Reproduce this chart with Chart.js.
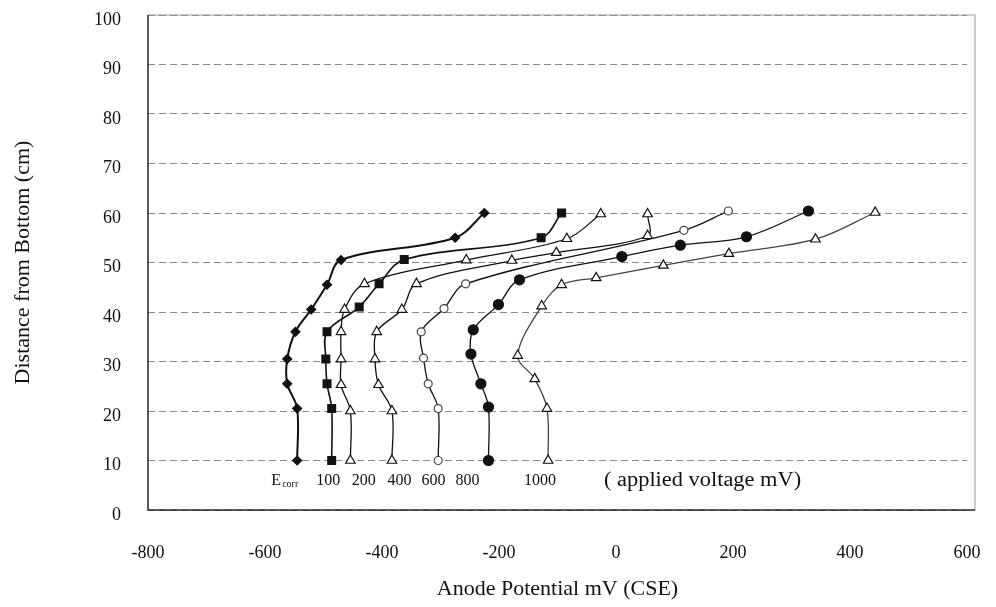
<!DOCTYPE html>
<html>
<head>
<meta charset="utf-8">
<script src="https://cdn.jsdelivr.net/npm/chart.js@4.4.1/dist/chart.umd.min.js"></script>
<style>
  html, body { margin: 0; padding: 0; background: #fff; }
  #wrap { width: 996px; height: 607px; position: relative; }
</style>
</head>
<body>
<div id="wrap"><canvas id="chart"></canvas></div>
<script>
// anode potential (mV CSE) vs distance from bottom (cm), one pair of arrays per applied voltage
const ecorrX = [-545, -545, -562, -562, -548, -521, -494, -470, -275, -225];
const ecorrY = [10, 20.5, 25.5, 30.5, 36, 40.5, 45.5, 50.5, 55, 60];

const v100X = [-486, -486, -494, -496, -494, -439, -405, -362, -128, -93];
const v100Y = [10, 20.5, 25.5, 30.5, 36, 41, 45.7, 50.6, 55, 60];

const v200X = [-454, -454, -470, -470, -470, -464, -430, -256, -84, -26];
const v200Y = [10, 20, 25.3, 30.5, 36, 40.5, 45.7, 50.5, 54.8, 59.8];

const v400X = [-383, -383, -406, -412, -409, -366, -341, -178, -102, 54, 54];
const v400Y = [10, 20, 25.3, 30.5, 36, 40.5, 45.7, 50.4, 52, 55.4, 59.8];

const v600X = [-304, -304, -321, -329, -333, -294, -257, 116, 192];
const v600Y = [10, 20.5, 25.5, 30.7, 36, 40.7, 45.7, 56.5, 60.4];

const v800X = [-218, -218, -231, -248, -244, -201, -165, 10, 110, 223, 329];
const v800Y = [10, 20.8, 25.5, 31.5, 36.4, 41.5, 46.5, 51.2, 53.5, 55.2, 60.4];

const v1000X = [-116, -118, -139, -168, -127, -93, -34, 81, 193, 341, 443];
const v1000Y = [10, 20.5, 26.5, 31.2, 41.2, 45.5, 46.9, 49.4, 51.8, 54.7, 60.1];

const voltageLabels = ['Ecorr', '100', '200', '400', '600', '800', '1000'];
const xTicks = [-800, -600, -400, -200, 0, 200, 400, 600];
const yTicks = [0, 10, 20, 30, 40, 50, 60, 70, 80, 90, 100];

const serif = "'Liberation Serif', 'DejaVu Serif', serif";

function pts(xs, ys) {
  return xs.map((x, i) => ({ x: x, y: ys[i] }));
}

function series(label, xs, ys, style) {
  return Object.assign({
    label: label,
    data: pts(xs, ys),
    showLine: true,
    tension: 0.35,
    borderColor: '#111',
    borderWidth: 1.3,
    pointBorderColor: '#111',
    pointBorderWidth: 1.2
  }, style);
}

const datasets = [
  series(voltageLabels[0], ecorrX, ecorrY, { borderWidth: 2, pointStyle: 'rectRot', pointRadius: 4.5, pointBackgroundColor: '#111' }),
  series(voltageLabels[1], v100X, v100Y, { borderWidth: 1.6, pointStyle: 'rect', pointRadius: 5.5, pointBackgroundColor: '#111' }),
  series(voltageLabels[2], v200X, v200Y, { pointStyle: 'triangle', pointRadius: 5.5, pointBackgroundColor: '#fff' }),
  series(voltageLabels[3], v400X, v400Y, { pointStyle: 'triangle', pointRadius: 5.5, pointBackgroundColor: '#fff' }),
  series(voltageLabels[4], v600X, v600Y, { pointStyle: 'circle', pointRadius: 4, pointBackgroundColor: '#fff', pointBorderColor: '#444' }),
  series(voltageLabels[5], v800X, v800Y, { pointStyle: 'circle', pointRadius: 5, pointBackgroundColor: '#111' }),
  series(voltageLabels[6], v1000X, v1000Y, { pointStyle: 'triangle', pointRadius: 5.5, pointBackgroundColor: '#fff', borderColor: '#444' })
];

// labels written under each curve, placed in data units
const labelX = [-567, -492, -431, -370, -312, -254, -130];
const labelY = 6;
const noteText = '( applied voltage mV)';
const noteX = 148;

const framePlugin = {
  id: 'frame',
  beforeDatasetsDraw(chart) {
    const { ctx, chartArea: a } = chart;
    const r = a.right + 8;
    ctx.save();
    ctx.strokeStyle = '#9a9a9a';
    ctx.lineWidth = 1;
    ctx.beginPath();
    ctx.moveTo(a.left, a.top);
    ctx.lineTo(r, a.top);
    ctx.lineTo(r, a.bottom);
    ctx.stroke();
    ctx.strokeStyle = '#222';
    ctx.lineWidth = 1.5;
    ctx.beginPath();
    ctx.moveTo(a.left, a.top);
    ctx.lineTo(a.left, a.bottom);
    ctx.lineTo(r, a.bottom);
    ctx.stroke();
    ctx.restore();
  },
  afterDatasetsDraw(chart) {
    const { ctx, scales } = chart;
    const py = scales.y.getPixelForValue(labelY);
    ctx.save();
    ctx.fillStyle = '#111';
    ctx.textBaseline = 'middle';
    ctx.textAlign = 'center';
    ctx.font = '16px ' + serif;
    voltageLabels.forEach((t, i) => {
      const px = scales.x.getPixelForValue(labelX[i]);
      if (t === 'Ecorr') {
        ctx.textAlign = 'left';
        ctx.font = '16px ' + serif;
        const w = ctx.measureText('E').width;
        ctx.font = '10px ' + serif;
        const w2 = ctx.measureText('corr').width;
        const x0 = px - (w + w2) / 2;
        ctx.font = '16px ' + serif;
        ctx.fillText('E', x0, py);
        ctx.font = '10px ' + serif;
        ctx.fillText('corr', x0 + w + 1, py + 4);
        ctx.textAlign = 'center';
        ctx.font = '16px ' + serif;
      } else {
        ctx.fillText(t, px, py);
      }
    });
    // the scanned note reads a little wider than the digits
    const nx = scales.x.getPixelForValue(noteX);
    ctx.translate(nx, py);
    ctx.scale(1.12, 1);
    ctx.font = '20px ' + serif;
    ctx.fillText(noteText, 0, 0);
    ctx.restore();
  }
};

new Chart(document.getElementById('chart'), {
  type: 'scatter',
  data: { datasets: datasets },
  options: {
    responsive: true,
    maintainAspectRatio: false,
    animation: false,
    layout: { padding: { top: 15, right: 29, left: 0, bottom: 0 } },
    plugins: {
      legend: { display: false },
      tooltip: { enabled: false }
    },
    scales: {
      x: {
        type: 'linear',
        min: -800,
        max: 600,
        afterFit: s => { s.height = 97; s.paddingLeft = 0; s.paddingRight = 0; },
        afterBuildTicks: s => { s.ticks = xTicks.map(v => ({ value: v })); },
        grid: { display: false },
        border: { display: false },
        ticks: { color: '#111', padding: 24, font: { family: serif, size: 18 } },
        title: {
          display: true,
          text: 'Anode Potential mV (CSE)',
          color: '#111',
          font: { family: serif, size: 22 },
          padding: { top: 0, bottom: 5 }
        }
      },
      y: {
        min: 0,
        max: 100,
        afterFit: s => { s.width = 148; s.paddingTop = 0; s.paddingBottom = 0; },
        afterBuildTicks: s => { s.ticks = yTicks.map(v => ({ value: v })); },
        grid: { color: '#8a8a8a', lineWidth: 1, tickLength: 0 },
        border: { display: false, dash: [7, 4] },
        ticks: { color: '#111', padding: 27, labelOffset: 5, font: { family: serif, size: 18 } },
        title: {
          display: true,
          text: 'Distance from Bottom (cm)',
          color: '#111',
          font: { family: serif, size: 22 },
          padding: 10
        }
      }
    }
  },
  plugins: [framePlugin]
});
</script>
</body>
</html>
